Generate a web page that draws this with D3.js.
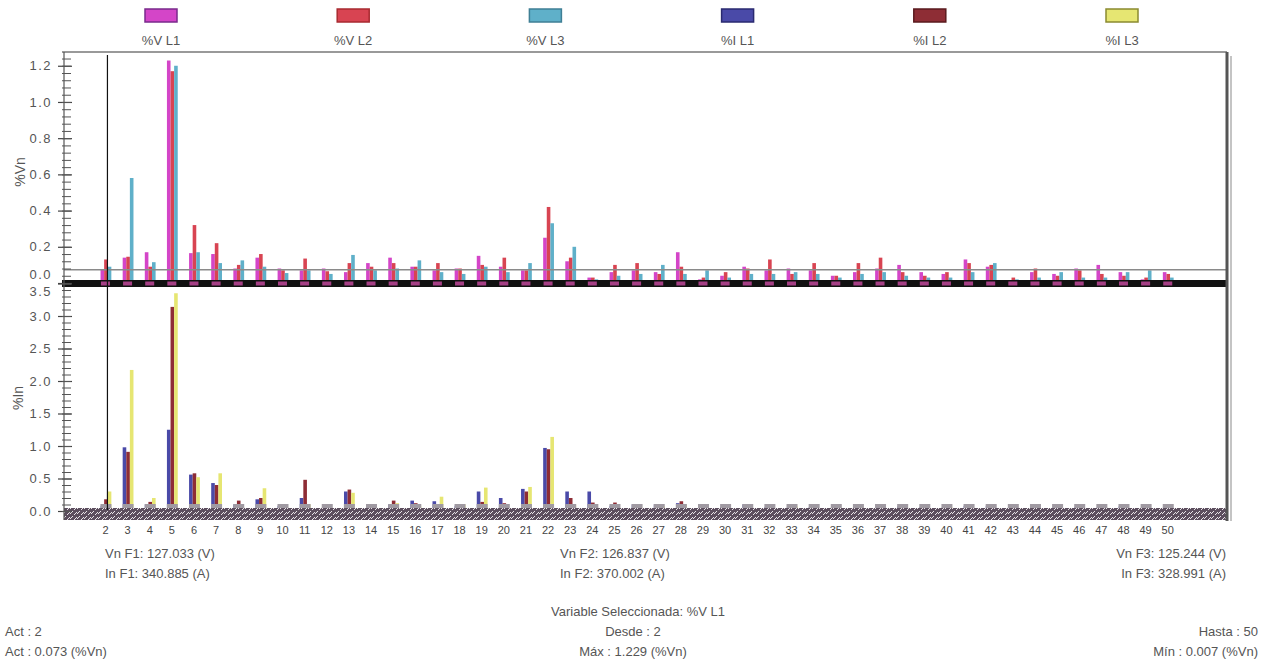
<!DOCTYPE html>
<html>
<head>
<meta charset="utf-8">
<script src="https://cdn.jsdelivr.net/npm/d3@7/dist/d3.min.js"></script>
<style>
  html, body { margin: 0; padding: 0; background: #fff; }
  svg { display: block; font-family: "Liberation Sans", Arial, sans-serif; }
</style>
</head>
<body>
<svg id="chart" width="1276" height="664"></svg>
<script>
// Harmonic orders shown on the x axis
const harmonics = [2,3,4,5,6,7,8,9,10,11,12,13,14,15,16,17,18,19,20,21,22,23,24,25,26,
  27,28,29,30,31,32,33,34,35,36,37,38,39,40,41,42,43,44,45,46,47,48,49,50];

// Voltage harmonics, % of fundamental (Vn)
const vL1 = [0.073,0.14,0.17,1.229,0.165,0.16,0.08,0.14,0.08,0.07,0.08,0.06,0.11,0.14,0.09,0.07,0.08,0.15,0.09,0.07,0.25,0.12,0.03,0.06,0.07,
  0.06,0.17,0.02,0.04,0.09,0.07,0.08,0.07,0.04,0.06,0.08,0.10,0.06,0.05,0.13,0.09,0.007,0.06,0.05,0.08,0.10,0.06,0.02,0.06];
const vL2 = [0.13,0.145,0.09,1.17,0.32,0.22,0.10,0.16,0.07,0.135,0.065,0.11,0.09,0.11,0.09,0.11,0.08,0.10,0.14,0.07,0.42,0.14,0.03,0.10,0.11,
  0.05,0.09,0.03,0.06,0.08,0.13,0.05,0.11,0.04,0.11,0.14,0.06,0.04,0.06,0.11,0.10,0.03,0.08,0.04,0.07,0.05,0.04,0.03,0.05];
const vL3 = [0.09,0.58,0.115,1.20,0.17,0.11,0.125,0.09,0.055,0.07,0.05,0.155,0.07,0.08,0.125,0.06,0.05,0.09,0.06,0.11,0.33,0.20,0.02,0.04,0.05,
  0.10,0.05,0.07,0.03,0.05,0.05,0.06,0.05,0.03,0.05,0.06,0.04,0.03,0.03,0.06,0.11,0.02,0.03,0.06,0.03,0.03,0.06,0.07,0.03];

// Current harmonics, % of fundamental (In)
const iL1 = [0.08,0.98,0.10,1.25,0.56,0.43,0.10,0.18,0.08,0.20,0.05,0.30,0.06,0.10,0.16,0.15,0.08,0.30,0.20,0.34,0.97,0.30,0.30,0.08,0.10,
  0.10,0.12,0.10,0.06,0.10,0.06,0.05,0.06,0.05,0.08,0.06,0.07,0.06,0.05,0.08,0.08,0.05,0.04,0.05,0.06,0.05,0.07,0.04,0.05];
const iL2 = [0.18,0.91,0.14,3.14,0.58,0.40,0.16,0.20,0.06,0.48,0.10,0.33,0.05,0.16,0.12,0.10,0.10,0.14,0.12,0.30,0.95,0.20,0.13,0.13,0.08,
  0.10,0.15,0.08,0.05,0.08,0.09,0.04,0.05,0.07,0.10,0.08,0.06,0.05,0.07,0.10,0.09,0.04,0.05,0.04,0.07,0.05,0.06,0.05,0.04];
const iL3 = [0.30,2.17,0.20,3.35,0.52,0.58,0.05,0.35,0.05,0.10,0.05,0.28,0.10,0.12,0.08,0.22,0.10,0.36,0.05,0.37,1.14,0.10,0.05,0.05,0.05,
  0.08,0.10,0.05,0.03,0.05,0.05,0.08,0.04,0.05,0.06,0.04,0.05,0.04,0.06,0.05,0.04,0.03,0.05,0.06,0.04,0.05,0.04,0.03,0.04];

// Axis tick labels
const vTicks = [0, 0.2, 0.4, 0.6, 0.8, 1.0, 1.2];
const iTicks = [0, 0.5, 1.0, 1.5, 2.0, 2.5, 3.0, 3.5];

// Legend entries
const seriesNames = ["%V L1", "%V L2", "%V L3", "%I L1", "%I L2", "%I L3"];
const seriesFill  = ["#d445c8", "#d84452", "#5fb0c9", "#4a4aa8", "#8e2d35", "#e6e672"];
const seriesEdge  = ["#7a2a8c", "#a82a30", "#3f7f95", "#2a2a70", "#5a1a1e", "#8a8a30"];

// Fundamental readings per phase
const fundV = ["127.033", "126.837", "125.244"];
const fundA = ["340.885", "370.002", "328.991"];

// Cursor / selection info
const selected = { name: "%V L1", act: 2, actValue: 0.073, from: 2, to: 50, max: 1.229, min: 0.007 };

const svg = d3.select("#chart");
const left = 64, right = 1227;

const x = d3.scaleLinear().domain([0.15, 52.7]).range([left, right]);
const yV = d3.scaleLinear().domain([0, 1.276]).range([283, 52]);
const yI = d3.scaleLinear().domain([0, 3.5]).range([511, 283.5]);

const textCol = "#555";

// ---- Legend ----
const legend = svg.append("g");
seriesNames.forEach((name, i) => {
  const cx = 161 + i * 192.2;
  legend.append("rect").attr("x", cx - 16).attr("y", 9).attr("width", 32).attr("height", 13)
    .attr("fill", seriesFill[i]).attr("stroke", seriesEdge[i]).attr("stroke-width", 1.5);
  legend.append("text").attr("x", cx).attr("y", 45).attr("text-anchor", "middle")
    .attr("font-size", 13).attr("fill", textCol).text(name);
});

// ---- Bars ----
const bw = 3.6;
function drawBars(series, scale, colors, clsName) {
  const g = svg.append("g").attr("class", clsName);
  series.forEach((vals, s) => {
    g.selectAll(null).data(harmonics).join("rect")
      .attr("x", h => x(h) - 4.4 + s * bw)
      .attr("y", (h, i) => scale(vals[i]))
      .attr("width", bw)
      .attr("height", (h, i) => scale(0) - scale(vals[i]))
      .attr("fill", colors[s]);
  });
}
drawBars([vL1, vL2, vL3], yV, seriesFill.slice(0, 3), "vbars");
drawBars([iL1, iL2, iL3], yI, seriesFill.slice(3), "ibars");

// Pedestals under each current group
svg.append("g").selectAll("rect").data(harmonics).join("rect")
  .attr("x", h => x(h) - 4.5).attr("y", 504).attr("width", 11).attr("height", 4)
  .attr("fill", "#a09aa2");

// ---- Horizontal cursor level (selected value) ----
svg.append("line").attr("x1", left).attr("x2", right)
  .attr("y1", yV(selected.actValue)).attr("y2", yV(selected.actValue))
  .attr("stroke", "#8a8a8a").attr("stroke-width", 1.5);

// ---- Band separating the two panels (upper x baseline) ----
svg.append("rect").attr("x", left - 2).attr("y", 280).attr("width", right - left + 2).attr("height", 7).attr("fill", "#111");
svg.append("g").selectAll("rect").data(harmonics).join("rect")
  .attr("x", h => x(h) - 4).attr("y", 281.5).attr("width", 9).attr("height", 4)
  .attr("fill", "#c0489a").attr("opacity", 0.85);

// ---- Textured band under the lower panel ----
const defs = svg.append("defs");
const pat = defs.append("pattern").attr("id", "hatch").attr("patternUnits", "userSpaceOnUse")
  .attr("width", 7).attr("height", 5);
pat.append("rect").attr("width", 7).attr("height", 5).attr("fill", "#5c4e5e");
pat.append("path").attr("d", "M0,4 L3,1 M4,5 L7,2").attr("stroke", "#e8e4e8").attr("stroke-width", 1);
svg.append("rect").attr("x", left).attr("y", 508).attr("width", right - left).attr("height", 12).attr("fill", "url(#hatch)");

// ---- Frame ----
svg.append("line").attr("x1", left - 2).attr("x2", right).attr("y1", 52).attr("y2", 52)
  .attr("stroke", "#777").attr("stroke-width", 1.5);
svg.append("line").attr("x1", right).attr("x2", right).attr("y1", 52).attr("y2", 521)
  .attr("stroke", "#555").attr("stroke-width", 3);
svg.append("line").attr("x1", right + 4).attr("x2", right + 4).attr("y1", 56).attr("y2", 521)
  .attr("stroke", "#c4c4c4").attr("stroke-width", 2);

// ---- Cursor line at the selected harmonic ----
svg.append("line").attr("x1", x(selected.act) + 2.5).attr("x2", x(selected.act) + 2.5)
  .attr("y1", 55).attr("y2", 510).attr("stroke", "#111").attr("stroke-width", 1.2);

// ---- Y axes ----
function yAxis(scale, ticks, minorStep, fmt) {
  const g = svg.append("g").attr("transform", `translate(${left},0)`);
  g.call(d3.axisLeft(scale).tickValues(ticks).tickSize(6).tickPadding(6).tickFormat(fmt));
  g.select(".domain").remove();
  g.selectAll(".tick line").attr("x1", 8).attr("stroke", "#444").attr("stroke-width", 1.2);
  g.selectAll(".tick text").attr("font-size", 13).attr("fill", textCol)
    .attr("font-family", "Liberation Sans, Arial, sans-serif").attr("letter-spacing", "1.5px");
  const [d0, d1] = scale.domain();
  const minor = d3.range(d0, d1 + 1e-9, minorStep);
  const gm = svg.append("g").attr("transform", `translate(${left},0)`);
  gm.call(d3.axisLeft(scale).tickValues(minor).tickSize(2).tickFormat(""));
  gm.select(".domain").remove();
  gm.selectAll(".tick line").attr("x1", 7).attr("stroke", "#555");
  return g;
}
const axV = yAxis(yV, vTicks, 0.04, d3.format(".1f"));
const axI = yAxis(yI, iTicks, 0.1, d3.format(".1f"));
// keep the two labels that meet at the panel join apart
axV.selectAll(".tick text").filter(d => d === 0).attr("dy", "-0.35em");
axI.selectAll(".tick text").filter(d => d === 3.5).attr("dy", "0.95em");
svg.append("line").attr("x1", left).attr("x2", left).attr("y1", 52).attr("y2", 520)
  .attr("stroke", "#555").attr("stroke-width", 1.2);

// Axis titles
svg.append("text").attr("transform", "translate(25,172) rotate(-90)").attr("text-anchor", "middle")
  .attr("font-size", 14).attr("fill", textCol).text("%Vn");
svg.append("text").attr("transform", "translate(23,398) rotate(-90)").attr("text-anchor", "middle")
  .attr("font-size", 14).attr("fill", textCol).text("%In");

// ---- X axis (harmonic order) ----
const gx = svg.append("g").attr("transform", "translate(0,524)");
gx.call(d3.axisBottom(x).tickValues(harmonics).tickSize(0).tickPadding(2).tickFormat(d3.format("d")));
gx.select(".domain").remove();
gx.selectAll(".tick text").attr("font-size", 11).attr("fill", "#444")
  .attr("font-family", "Liberation Sans Narrow, Liberation Sans, Arial, sans-serif");

// ---- Fundamental readings ----
const info = svg.append("g").attr("font-size", 13).attr("fill", textCol);
const anchors = [["start", 105], ["start", 560], ["end", 1226]];
anchors.forEach(([anchor, xp], i) => {
  info.append("text").attr("x", xp).attr("y", 558).attr("text-anchor", anchor)
    .text(`Vn F${i + 1}: ${fundV[i]} (V)`);
  info.append("text").attr("x", xp).attr("y", 578).attr("text-anchor", anchor)
    .text(`In F${i + 1}: ${fundA[i]} (A)`);
});

// ---- Selection summary ----
const sel = svg.append("g").attr("font-size", 13).attr("fill", textCol);
sel.append("text").attr("x", 638).attr("y", 616).attr("text-anchor", "middle")
  .text(`Variable Seleccionada: ${selected.name}`);
sel.append("text").attr("x", 5).attr("y", 636).text(`Act : ${selected.act}`);
sel.append("text").attr("x", 5).attr("y", 656).text(`Act : ${selected.actValue.toFixed(3)} (%Vn)`);
sel.append("text").attr("x", 633).attr("y", 636).attr("text-anchor", "middle").text(`Desde : ${selected.from}`);
sel.append("text").attr("x", 633).attr("y", 656).attr("text-anchor", "middle").text(`Máx : ${selected.max.toFixed(3)} (%Vn)`);
sel.append("text").attr("x", 1258).attr("y", 636).attr("text-anchor", "end").text(`Hasta : ${selected.to}`);
sel.append("text").attr("x", 1258).attr("y", 656).attr("text-anchor", "end").text(`Mín : ${selected.min.toFixed(3)} (%Vn)`);
</script>
</body>
</html>
